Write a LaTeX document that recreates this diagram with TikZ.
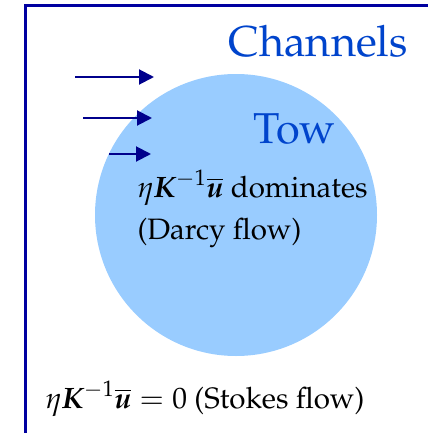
\documentclass[tikz,border=0pt]{standalone}
\usepackage{amsmath,amssymb}
\usepackage[T1]{fontenc}
\usepackage{mathpazo}
\usetikzlibrary{arrows.meta}
\definecolor{frameblue}{RGB}{0,0,160}
\definecolor{arrowblue}{RGB}{0,0,140}
\definecolor{labelblue}{RGB}{0,68,204}
\definecolor{towfill}{RGB}{153,204,255}
\newcommand{\bvec}[1]{\text{\normalfont\bfseries\itshape #1}}
\begin{document}
\begin{tikzpicture}[x=0.4pt, y=-0.4pt,
  region/.style={anchor=base west, inner sep=0pt, text=labelblue, font=\LARGE},
  note/.style={anchor=base west, inner sep=0pt, font=\fontsize{11.8}{14}\selectfont},
  flow/.style={-{Triangle[length=6pt, width=6pt]}, line width=0.8pt, arrowblue}]
  \useasboundingbox (0,0) rectangle (428,433);
  % frame
  \draw[frameblue, line width=1.2pt] (25.5,433) -- (25.5,5) -- (428,5);
  % tow
  \fill[towfill] (236,215) circle (141);
  \node[region] (channels) at (228,56) {Channels};
  \node[region] (tow) at (253,143) {Tow};
  % inflow
  \coordinate (a1s) at (75,77);  \coordinate (a1e) at (154,77);
  \coordinate (a2s) at (83,118); \coordinate (a2e) at (152,118);
  \coordinate (a3s) at (109,154); \coordinate (a3e) at (151,154);
  \draw[flow] (a1s) -- (a1e);
  \draw[flow] (a2s) -- (a2e);
  \draw[flow] (a3s) -- (a3e);
  % texts
  \node[note] (darcy1) at (137,197) {$\eta\bvec{K}^{-1}\overline{\bvec{u}}$ dominates};
  \node[note] (darcy2) at (137,239) {(Darcy flow)};
  \node[note] (stokes) at (45,408) {$\eta\bvec{K}^{-1}\overline{\bvec{u}} = 0$ (Stokes flow)};
\end{tikzpicture}
\end{document}
